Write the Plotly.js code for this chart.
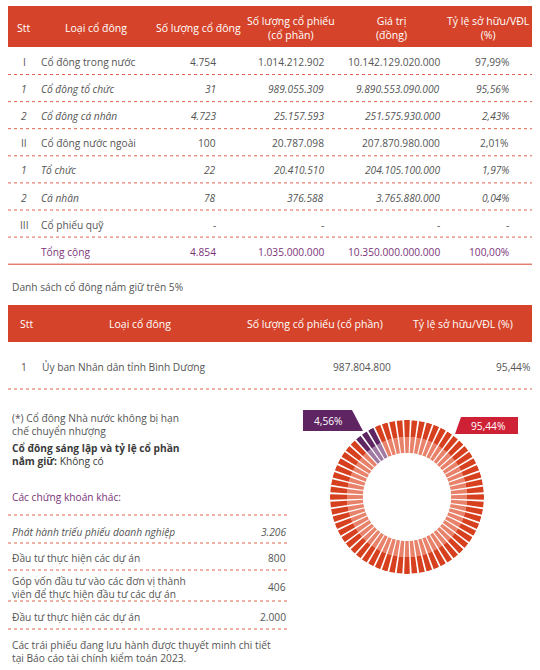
<!DOCTYPE html>
<html><head><meta charset="utf-8">
<script src="https://cdn.plot.ly/plotly-3.0.1.min.js"></script>
<style>html,body{margin:0;padding:0;background:#fff}</style>
</head><body><div id="chart" style="width:540px;height:670px"></div>
<script>
// ---------- DATA ----------
const headers1 = ["Stt", "Loại cổ đông", "Số lượng cổ đông", "Số lượng cổ phiếu<br>(cổ phần)", "Giá trị<br>(đồng)", "Tỷ lệ sở hữu/VĐL<br>(%)"];
const stt = ["I", "1", "2", "II", "1", "2", "III", ""];
const shareholderTypes = ["Cổ đông trong nước", "Cổ đông tổ chức", "Cổ đông cá nhân", "Cổ đông nước ngoài", "Tổ chức", "Cá nhân", "Cổ phiếu quỹ", "Tổng cộng"];
const holderCounts = ["4.754", "31", "4.723", "100", "22", "78", "-", "4.854"];
const shareCounts = ["1.014.212.902", "989.055.309", "25.157.593", "20.787.098", "20.410.510", "376.588", "-", "1.035.000.000"];
const valuesVND = ["10.142.129.020.000", "9.890.553.090.000", "251.575.930.000", "207.870.980.000", "204.105.100.000", "3.765.880.000", "-", "10.350.000.000.000"];
const ownershipPct = ["97,99%", "95,56%", "2,43%", "2,01%", "1,97%", "0,04%", "-", "100,00%"];

const majorTitle = "Danh sách cổ đông nắm giữ trên 5%";
const headers2 = ["Stt", "Loại cổ đông", "Số lượng cổ phiếu (cổ phần)", "Tỷ lệ sở hữu/VĐL (%)"];
const majorStt = ["1"];
const majorNames = ["Ủy ban Nhân dân tỉnh Bình Dương"];
const majorShares = ["987.804.800"];
const majorPct = ["95,44%"];

const noteLines = ["(*) Cổ đông Nhà nước không bị hạn", "chế chuyển nhượng"];
const founderLines = ["<b>Cổ đông sáng lập và tỷ lệ cổ phần</b>", "<b>nắm giữ:</b> Không có"];
const otherSecTitle = "Các chứng khoán khác:";
const otherSecLabels = ["Phát hành triếu phiếu doanh nghiệp", "Đầu tư thực hiện các dự án", "Góp vốn đầu tư vào các đơn vị thành<br>viên để thực hiện đầu tư các dự án", "Đầu tư thực hiện các dự án"];
const otherSecValues = ["3.206", "800", "406", "2.000"];
const footerLines = ["Các trái phiếu đang lưu hành được thuyết minh chi tiết", "tại Báo cáo tài chính kiểm toán 2023."];

const donutLabels = ["95,44%", "4,56%"];
const donutShares = [95.44, 4.56];

// ---------- RENDER ----------
const W = 540, H = 670;
const FONT = "Open Sans, sans-serif";
const RED = "#d5442a", PURPLE = "#7a3579", GRAY = "#555555", DOT = "#e0644f";
const px = x => x / W, py = y => 1 - y / H;
const ann = [], shp = [];
function T(text, x, y, o = {}) {
  ann.push({xref: 'paper', yref: 'paper', x: px(x), y: py(y), text: text, showarrow: false,
    xanchor: o.xa || 'left', yanchor: 'middle', align: o.xa || 'left',
    font: {family: FONT, size: o.size || 10.2, color: o.color || GRAY}});
}
function rect(x0, y0, x1, y1, c) {
  shp.push({type: 'rect', xref: 'paper', yref: 'paper', x0: px(x0), x1: px(x1), y0: py(y1), y1: py(y0), fillcolor: c, line: {width: 0}, layer: 'below'});
}
function hline(x0, x1, y, solid) {
  shp.push({type: 'line', xref: 'paper', yref: 'paper', x0: px(x0), x1: px(x1), y0: py(y), y1: py(y),
    line: {color: solid ? '#d9402b' : DOT, width: 1, dash: solid ? 'solid' : 'dot'}});
}
function poly(pts, c) {
  shp.push({type: 'path', xref: 'paper', yref: 'paper', path: 'M' + pts.map(p => px(p[0]) + ',' + py(p[1])).join(' L') + ' Z', fillcolor: c, line: {width: 0}});
}

// Table 1
rect(8, 6, 532, 47, RED);
const h1x = [24, 96, 198, 291, 391, 488];
headers1.forEach((h, i) => T(h, h1x[i], 28, {xa: 'center', color: '#ffffff', size: 10.5}));
const colR = [218, 326, 442, 511];
stt.forEach((s, i) => {
  const y = 62 + 27.1 * i;
  const isSub = /^\d/.test(s);
  const isTotal = s === "";
  const color = isTotal ? PURPLE : GRAY;
  const w = t => isSub ? '<i>' + t + '</i>' : t;
  T(w(s), 24, y, {xa: 'center', color});
  T(w(shareholderTypes[i]), 39, y, {color});
  [holderCounts[i], shareCounts[i], valuesVND[i], ownershipPct[i]].forEach((v, j) => T(w(v), colR[j], y, {xa: 'right', color}));
  hline(8, 532, y + 12.5, isTotal);
});

// Table 2
T(majorTitle, 10, 287);
rect(8, 305, 532, 342, RED);
const h2x = [[18, 'left'], [140, 'center'], [315, 'center'], [463, 'center']];
headers2.forEach((h, i) => T(h, h2x[i][0], 324, {xa: h2x[i][1], color: '#ffffff', size: 10.5}));
majorStt.forEach((s, i) => {
  const y = 367 + 30 * i;
  T(s, 24, y, {xa: 'center'});
  T(majorNames[i], 40, y);
  T(majorShares[i], 393, y, {xa: 'right'});
  T(majorPct[i], 532, y, {xa: 'right'});
  hline(8, 532, y + 22, false);
});

// Left notes
T(noteLines.join('<br>'), 10, 424.5);
T(founderLines.join('<br>'), 10, 454.5, {color: '#3a3a3a'});
T(otherSecTitle, 10, 497, {color: PURPLE});
hline(8, 289, 515, false);
const secY = [532, 558, 587, 617];
const secLine = [543, 570, 601, 629];
otherSecLabels.forEach((l, i) => {
  const w = t => i === 0 ? '<i>' + t + '</i>' : t;
  T(w(l), 10, secY[i]);
  T(w(otherSecValues[i]), 288, secY[i], {xa: 'right'});
  hline(8, 289, secLine[i], false);
});
T(footerLines.join('<br>'), 10, 651.5);

// Donut label tabs
poly([[461, 417], [518, 417], [518, 434], [455, 434]], '#cf2136');
T(donutLabels[0], 488, 426, {xa: 'center', color: '#ffffff'});
poly([[303, 410], [352, 410], [363, 431], [303, 431]], '#5f2462');
T(donutLabels[1], 328, 421, {xa: 'center', color: '#ffffff'});

// Donut: segmented ring coloured by share
const N = 64, step = 360 / N;
const minorCenter = 325; // angular position of the minority arc (deg, clockwise from top)
const minorArc = donutShares[1] / 100 * 360;
const theta = [], darkC = [], lightC = [];
for (let i = 0; i < N; i++) {
  const t = i * step;
  theta.push(t);
  const d = Math.abs(((t - minorCenter) % 360 + 540) % 360 - 180);
  const minor = d <= minorArc / 2;
  darkC.push(minor ? '#5f2462' : '#d6401f');
  lightC.push(minor ? '#a07aa3' : '#e8826b');
}
const cx = 407, cy = 497, R = 77, r0 = 44;
const traces = [
  {type: 'barpolar', theta: theta, r: theta.map(() => 16), width: theta.map(() => step * 0.76), marker: {color: lightC, line: {width: 0}}, hoverinfo: 'skip', showlegend: false},
  {type: 'barpolar', theta: theta, r: theta.map(() => 17), width: theta.map(() => step * 0.76), marker: {color: darkC, line: {width: 0}}, hoverinfo: 'skip', showlegend: false}
];
const layout = {
  width: W, height: H, margin: {l: 0, r: 0, t: 0, b: 0}, paper_bgcolor: '#fff', showlegend: false,
  polar: {domain: {x: [px(cx - R), px(cx + R)], y: [py(cy + R), py(cy - R)]}, hole: r0 / R, barmode: 'stack', bgcolor: 'rgba(0,0,0,0)',
    radialaxis: {visible: false, range: [0, 33]},
    angularaxis: {visible: false, rotation: 90, direction: 'clockwise'}},
  annotations: ann, shapes: shp
};
Plotly.newPlot('chart', traces, layout, {displayModeBar: false, staticPlot: true});
</script></body></html>
